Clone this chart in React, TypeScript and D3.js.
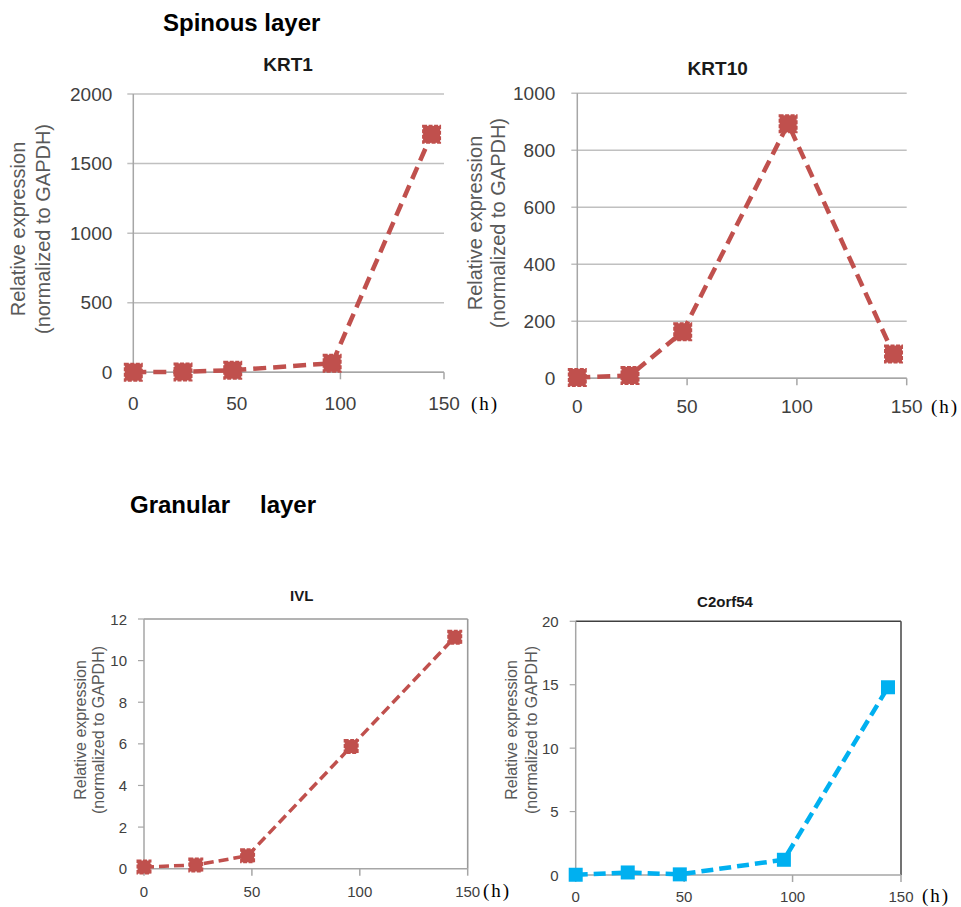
import React from "react";
import * as d3 from "d3";

const hours = [0, 24, 48, 96, 144];
const xTicks = [0, 50, 100, 150];

const krt1Values = [1, 3, 15, 65, 1710];
const krt1Ticks = [0, 500, 1000, 1500, 2000];

const krt10Values = [3, 10, 163, 893, 85];
const krt10Ticks = [0, 200, 400, 600, 800, 1000];

const ivlValues = [0.08, 0.18, 0.62, 5.87, 11.12];
const ivlTicks = [0, 2, 4, 6, 8, 10, 12];

const c2Values = [0.02, 0.2, 0.05, 1.2, 14.8];
const c2Ticks = [0, 5, 10, 15, 20];

const yLabel1 = "Relative expression";
const yLabel2 = "(normalized to GAPDH)";

const SANS = "'Liberation Sans', Arial, sans-serif";
const SERIF = "'Liberation Serif', 'DejaVu Serif', serif";

type PanelProps = {
  title: string;
  values: number[];
  yTicks: number[];
  left: number;
  right: number;
  top: number;
  bottom: number;
  grid: boolean;
  frameDark?: boolean;
  color: string;
  lineWidth: number;
  dash: string;
  markerSize: number;
  notched: boolean;
  titleX: number;
  titleY: number;
  titleSize: number;
  labelX1: number;
  labelX2: number;
  labelY: number;
  labelSize: number;
  tickSize: number;
  tickGapY: number;
  xLabelY: number;
  hX: number;
  hY: number;
  hSize: number;
};

function Panel(p: PanelProps) {
  const x = d3.scaleLinear().domain([0, 150]).range([p.left, p.right]);
  const y = d3
    .scaleLinear()
    .domain([0, p.yTicks[p.yTicks.length - 1]])
    .range([p.bottom, p.top]);
  const line = d3
    .line<number>()
    .x((_, i) => x(hours[i]))
    .y((v) => y(v));
  const axisColor = "#a6a6a6";
  const gridColor = "#c0c0c0";
  const ms = p.markerSize;
  return (
    <g>
      {p.grid &&
        p.yTicks.map((t) => (
          <line
            key={"g" + t}
            x1={p.left - 6}
            x2={p.right}
            y1={y(t)}
            y2={y(t)}
            stroke={gridColor}
            strokeWidth={1.5}
          />
        ))}
      {!p.grid &&
        p.yTicks.map((t) => (
          <line
            key={"yt" + t}
            x1={p.left - 6}
            x2={p.left}
            y1={y(t)}
            y2={y(t)}
            stroke={axisColor}
            strokeWidth={1.2}
          />
        ))}
      {!p.grid && (
        <g>
          <line x1={p.left} x2={p.right} y1={p.top} y2={p.top} stroke={p.frameDark ? "#404040" : "#9a9a9a"} strokeWidth={1.4} />
          <line x1={p.right} x2={p.right} y1={p.top} y2={p.bottom} stroke={p.frameDark ? "#505050" : "#9a9a9a"} strokeWidth={1.6} />
        </g>
      )}
      <line x1={p.left} x2={p.right} y1={p.bottom} y2={p.bottom} stroke={axisColor} strokeWidth={1.5} />
      {xTicks.map((t) => (
        <line key={"xt" + t} x1={x(t)} x2={x(t)} y1={p.bottom} y2={p.bottom + 7} stroke={axisColor} strokeWidth={1.5} />
      ))}
      <line x1={p.left} x2={p.left} y1={p.top} y2={p.bottom + 1} stroke={axisColor} strokeWidth={1.5} />
      {p.yTicks.map((t) => (
        <text
          key={"yl" + t}
          x={p.left - p.tickGapY}
          y={y(t)}
          textAnchor="end"
          dominantBaseline="central"
          fontFamily={SANS}
          fontSize={p.tickSize}
          fill="#404040"
        >
          {t}
        </text>
      ))}
      {xTicks.map((t) => (
        <text
          key={"xl" + t}
          x={x(t)}
          y={p.xLabelY}
          textAnchor="middle"
          dominantBaseline="central"
          fontFamily={SANS}
          fontSize={p.tickSize}
          fill="#404040"
        >
          {t}
        </text>
      ))}
      <text
        x={p.hX}
        y={p.hY}
        dominantBaseline="central"
        fontFamily={SERIF}
        fontSize={p.hSize}
        letterSpacing={2}
        fill="#000"
      >
        (h)
      </text>
      <text
        x={p.titleX}
        y={p.titleY}
        textAnchor="middle"
        fontFamily={SANS}
        fontWeight="bold"
        fontSize={p.titleSize}
        fill="#1a1a1a"
      >
        {p.title}
      </text>
      {[yLabel1, yLabel2].map((s, i) => (
        <text
          key={s}
          transform={`translate(${i === 0 ? p.labelX1 : p.labelX2},${p.labelY}) rotate(-90)`}
          textAnchor="middle"
          dominantBaseline="central"
          fontFamily={SANS}
          fontSize={p.labelSize}
          fill="#595959"
        >
          {s}
        </text>
      ))}
      <path
        d={line(p.values) || ""}
        fill="none"
        stroke={p.color}
        strokeWidth={p.lineWidth}
        strokeDasharray={p.dash}
      />
      {p.values.map((v, i) => (
        <rect
          key={"m" + i}
          x={x(hours[i]) - ms / 2}
          y={y(v) - ms / 2}
          width={ms}
          height={ms}
          fill={p.color}
          stroke={p.color}
          strokeWidth={p.notched ? 2 : 0}
          strokeDasharray={p.notched ? "4,1.5" : undefined}
        />
      ))}
    </g>
  );
}

export default function App() {
  const red = "#C0504D";
  const blue = "#00B0F0";
  return (
    <svg
      width={961}
      height={907}
      style={{ position: "absolute", left: 0, top: 0, background: "#fff" }}
    >
      <rect x={0} y={0} width={961} height={907} fill="#fff" />
      <text x={163} y={31} fontFamily={SANS} fontWeight="bold" fontSize={24} fill="#000">
        Spinous layer
      </text>
      <text x={130} y={513} fontFamily={SANS} fontWeight="bold" fontSize={24} fill="#000">
        Granular
      </text>
      <text x={260} y={513} fontFamily={SANS} fontWeight="bold" fontSize={24} fill="#000">
        layer
      </text>
      <Panel
        title="KRT1"
        values={krt1Values}
        yTicks={krt1Ticks}
        left={133.3}
        right={444}
        top={94}
        bottom={372.3}
        grid={true}
        color={red}
        lineWidth={4.5}
        dash="13,7"
        markerSize={17}
        notched={true}
        titleX={288}
        titleY={70.5}
        titleSize={19}
        labelX1={18}
        labelX2={43}
        labelY={229}
        labelSize={20}
        tickSize={19}
        tickGapY={21}
        xLabelY={403}
        hX={471}
        hY={403}
        hSize={19}
      />
      <Panel
        title="KRT10"
        values={krt10Values}
        yTicks={krt10Ticks}
        left={577.3}
        right={906.7}
        top={93.3}
        bottom={378.3}
        grid={true}
        color={red}
        lineWidth={4.5}
        dash="13,7"
        markerSize={17}
        notched={true}
        titleX={717.7}
        titleY={75}
        titleSize={19}
        labelX1={475}
        labelX2={498}
        labelY={223}
        labelSize={20}
        tickSize={19}
        tickGapY={22}
        xLabelY={406.7}
        hX={931}
        hY={406}
        hSize={19}
      />
      <Panel
        title="IVL"
        values={ivlValues}
        yTicks={ivlTicks}
        left={144}
        right={467.7}
        top={619}
        bottom={868.7}
        grid={false}
        color={red}
        lineWidth={3.5}
        dash="10,5"
        markerSize={13}
        notched={true}
        titleX={301.7}
        titleY={600.7}
        titleSize={15}
        labelX1={80}
        labelX2={98.3}
        labelY={730}
        labelSize={16}
        tickSize={15}
        tickGapY={17}
        xLabelY={891.7}
        hX={483}
        hY={890}
        hSize={19}
      />
      <Panel
        title="C2orf54"
        values={c2Values}
        yTicks={c2Ticks}
        left={575.7}
        right={901}
        top={621.3}
        bottom={875}
        grid={false}
        frameDark={true}
        color={blue}
        lineWidth={4.5}
        dash="12,6"
        markerSize={14}
        notched={false}
        titleX={725}
        titleY={607}
        titleSize={15}
        labelX1={511.7}
        labelX2={531.7}
        labelY={730}
        labelSize={16}
        tickSize={15}
        tickGapY={17}
        xLabelY={896.7}
        hX={922}
        hY={895}
        hSize={19}
      />
    </svg>
  );
}
